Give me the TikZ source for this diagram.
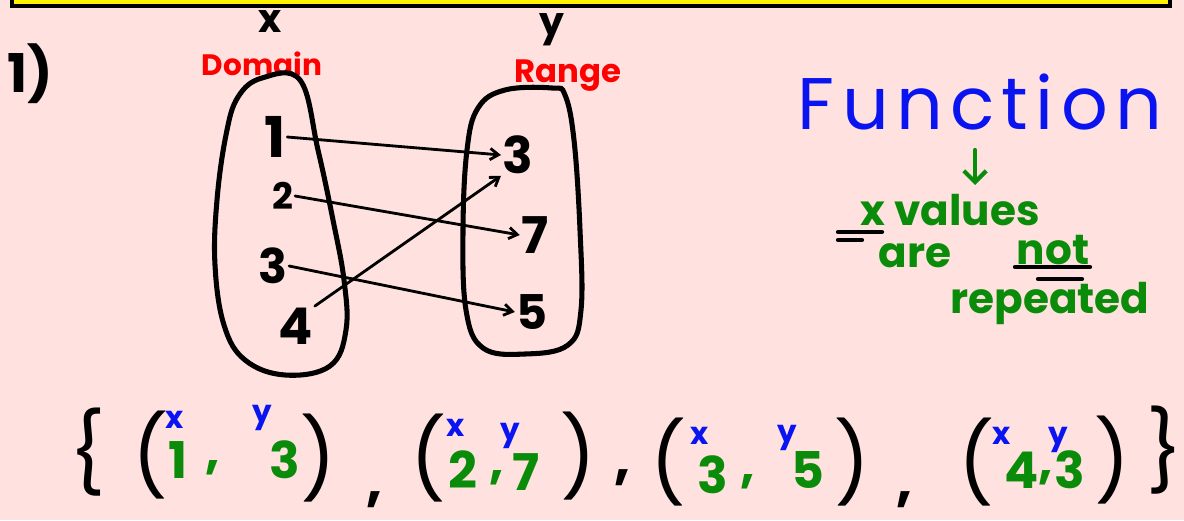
\documentclass[tikz,border=0pt]{standalone}
\usepackage{fontspec}
\setmainfont{Poppins}
\usetikzlibrary{arrows.meta}
\definecolor{board}{HTML}{FFE2E0}
\definecolor{pen}{HTML}{0A8C0A}
\definecolor{ink}{HTML}{0A14F0}

\begin{document}
\begin{tikzpicture}[
    x=0.025cm, y=-0.025cm,
    >={Straight Barb[length=6pt,width=8pt]},
    hand/.style={inner sep=1pt, font=\fontsize{#1}{#1}\selectfont\bfseries},
    hand/.default=34,
    brk/.style={inner sep=1pt, font=\fontsize{56}{56}\selectfont},
    oval/.style={line width=3.6pt, line cap=round},
    link/.style={->, line width=2pt, line cap=round},
    underbar/.style={line width=3pt, line cap=round}
]
\useasboundingbox (0,0) rectangle (1184,520);
\fill[board] (0,0) rectangle (1184,520);
\clip (0,0) rectangle (1184,520);
\draw[line width=2.5pt, fill=yellow] (12,-12) rectangle (1170,6);

% heading part
\node[hand=38] (qnum) at (30,74) {1)};
\node[hand=28] (xhead) at (270,22) {x};
\node[hand=28] (yhead) at (552,30) {y};
\node[hand=21, red] (dom) at (262,64) {Domain};
\node[hand=23, red] (rng) at (568,76) {Range};

% the two sets
\draw[oval] plot[smooth cycle, tension=0.65] coordinates {
    (300,80) (262,78) (238,97) (226,135) (217,200) (215,265) (224,325)
    (245,360) (285,375) (330,366) (346,330) (344,280) (333,220) (318,150)};
\draw[oval] plot[smooth cycle, tension=0.65] coordinates {
    (552,88) (505,90) (478,108) (467,150) (463,230) (466,310) (483,348)
    (525,354) (568,345) (581,310) (580,230) (574,140) (565,95)};

\node[hand=40] (d1) at (275,137) {1};
\node[hand=26] (d2) at (283,196) {2};
\node[hand=34] (d3) at (273,266) {3};
\node[hand=36] (d4) at (296,326) {4};
\node[hand=36] (r3) at (518,155) {3};
\node[hand=36] (r7) at (535,235) {7};
\node[hand=34] (r5) at (532,312) {5};

\draw[link] (d1.east) -- (r3.west);
\draw[link] (d2.east) -- (r7.west);
\draw[link] (d3.east) -- (r5.west);
\draw[link] (d4.north east) -- (r3.south west);

% note on the right
\node[hand=52, ink] (fn) at (980,102) {\mdseries\addfontfeature{LetterSpace=10}Function};
\coordinate (ta) at (975,150);
\coordinate (tb) at (975,185);
\draw[pen, line width=3pt, line cap=round, -{Straight Barb[length=8pt,width=16pt]}] (ta) -- (tb);
\node[hand=30, pen] (xv) at (950,210) {x values};
\node[hand=30, pen] (are) at (915,256) {are};
\node[hand=30, pen] (no) at (1053,250) {not};
\node[hand=30, pen] (rep) at (1050,303) {repeated};
\draw[underbar] (1015,267) -- (1090,267);
\draw[underbar] (1038,279) -- (1082,279);
\draw[underbar] (838,232) -- (882,232);
\draw[underbar] (838,240) -- (862,240);

% ordered pairs
\node[brk] (lb) at (88,452) {\{};
\node[brk] (a1) at (150,455) {(};
\node[hand=36, pen] (a1x) at (178,460) {1};
\node[hand=36, pen] (a1c) at (213,468) {,};
\node[hand=36, pen] (a1y) at (285,460) {3};
\node[brk] (a1r) at (318,458) {)};
\node[hand=40] (k1) at (375,500) {,};
\node[hand=22, ink] (t1x) at (175,420) {x};
\node[hand=22, ink] (t1y) at (262,418) {y};

\node[brk] (a2) at (428,458) {(};
\node[hand=36, pen] (a2x) at (463,470) {2};
\node[hand=36, pen] (a2c) at (497,478) {,};
\node[hand=36, pen] (a2y) at (526,472) {7};
\node[brk] (a2r) at (578,456) {)};
\node[hand=40] (k2) at (623,478) {,};
\node[hand=22, ink] (t2x) at (456,428) {x};
\node[hand=22, ink] (t2y) at (510,436) {y};

\node[brk] (a3) at (668,462) {(};
\node[hand=36, pen] (a3x) at (713,475) {3};
\node[hand=36, pen] (a3c) at (748,482) {,};
\node[hand=36, pen] (a3y) at (808,470) {5};
\node[brk] (a3r) at (852,462) {)};
\node[hand=40] (k3) at (905,500) {,};
\node[hand=22, ink] (t3x) at (700,436) {x};
\node[hand=22, ink] (t3y) at (787,438) {y};

\node[brk] (a4) at (976,462) {(};
\node[hand=36, pen] (a4x) at (1022,470) {4};
\node[hand=36, pen] (a4c) at (1046,478) {,};
\node[hand=36, pen] (a4y) at (1070,470) {3};
\node[brk] (a4r) at (1112,460) {)};
\node[brk] (rb) at (1165,450) {\}};
\node[hand=22, ink] (t4x) at (1002,436) {x};
\node[hand=22, ink] (t4y) at (1058,440) {y};
\end{tikzpicture}
\end{document}
